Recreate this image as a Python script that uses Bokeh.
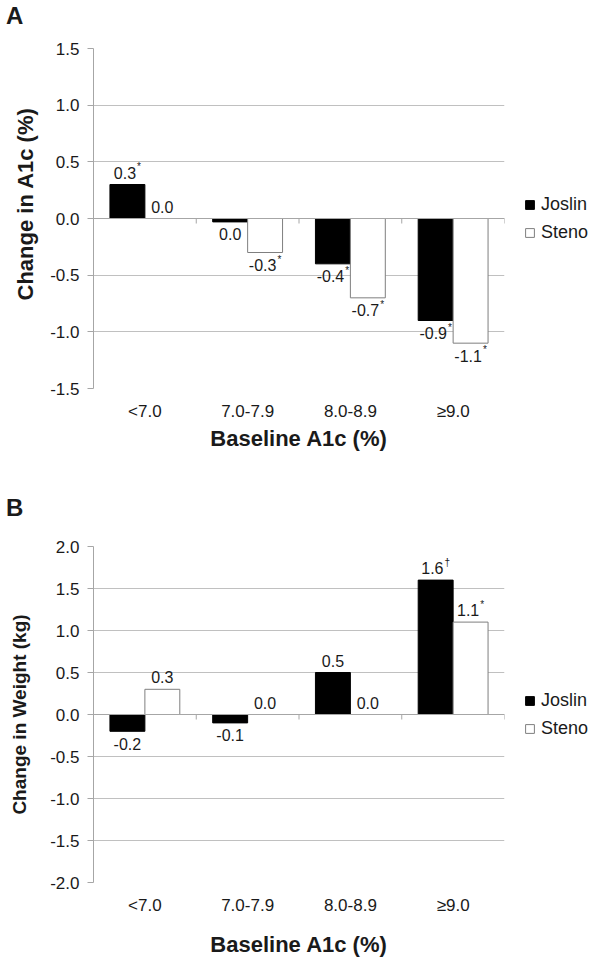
from math import pi
from bokeh.plotting import figure
from bokeh.models import (ColumnDataSource, FactorRange, FixedTicker, NumeralTickFormatter,
                          Legend, LegendItem, Span, Title, Div)
from bokeh.transform import dodge
from bokeh.layouts import column
from bokeh.embed import file_html
from bokeh.resources import INLINE
from bokeh.core.properties import value

# ---------------- data ----------------
categories = ["<7.0", "7.0-7.9", "8.0-8.9", "≥9.0"]
series = ["Joslin", "Steno"]

a1c_joslin = [0.3, -0.03, -0.4, -0.9]
a1c_joslin_labels = ["0.3", "0.0", "-0.4", "-0.9"]
a1c_joslin_marks = ["*", "", "*", "*"]
a1c_steno = [0.0, -0.3, -0.7, -1.1]
a1c_steno_labels = ["0.0", "-0.3", "-0.7", "-1.1"]
a1c_steno_marks = ["", "*", "*", "*"]
a1c_ticks = [-1.5, -1.0, -0.5, 0.0, 0.5, 1.0, 1.5]

wt_joslin = [-0.2, -0.1, 0.5, 1.6]
wt_joslin_labels = ["-0.2", "-0.1", "0.5", "1.6"]
wt_joslin_marks = ["", "", "", "†"]
wt_steno = [0.3, 0.0, 0.0, 1.1]
wt_steno_labels = ["0.3", "0.0", "0.0", "1.1"]
wt_steno_marks = ["", "", "", "*"]
wt_ticks = [-2.0, -1.5, -1.0, -0.5, 0.0, 0.5, 1.0, 1.5, 2.0]

x_title = "Baseline A1c (%)"

# ---------------- style ----------------
FONT = "Liberation Sans"
TXT = "#1a1a1a"
GRID = "#c0c0c0"
AXIS = "#a6a6a6"
LBL_SIZE = 16
SUP_SIZE = 10
CHAR_W = {".": 0.278, "-": 0.333, "*": 0.389, "†": 0.556}


def text_w(s, size):
    return sum(CHAR_W.get(c, 0.556) for c in s) * size


def label_source(vals, labels, marks):
    main_xoff, sup_xoff, main_yoff, sup_yoff = [], [], [], []
    for v, l, m in zip(vals, labels, marks):
        mw = text_w(l, LBL_SIZE)
        sw = text_w(m, SUP_SIZE) + (1 if m else 0)
        main_xoff.append(-sw / 2)
        sup_xoff.append(mw / 2 - sw / 2 + 1)
        yo = -12 if v >= 0 else 12.5
        main_yoff.append(yo)
        sup_yoff.append(yo - 6)
    return ColumnDataSource(dict(cat=categories, y=vals, main=labels, sup=marks,
                                 mx=main_xoff, sx=sup_xoff, my=main_yoff, sy=sup_yoff))


def letter_div(letter, height, pad_top):
    html = (f'<div style="font-family:\'{FONT}\';font-size:24px;font-weight:bold;'
            f'line-height:28px;padding:{pad_top}px 0 0 6px;margin:0;color:{TXT}">{letter}</div>')
    return Div(text=html, width=604, height=height, margin=0)


def panel(ylabel, ylabel_size, ylabel_mode, ylabel_offset, ylabel_standoff,
          jv, jl, jm, sv, sl, sm, ticks, frame_h, top, bottom, xlab_standoff):
    p = figure(x_range=FactorRange(factors=categories, range_padding=0, factor_padding=0),
               y_range=(ticks[0], ticks[-1]), frame_width=411, frame_height=frame_h,
               min_border_left=93, min_border_right=100, min_border_top=top,
               min_border_bottom=bottom, output_backend="svg", toolbar_location=None)

    p.outline_line_color = None
    p.xgrid.grid_line_color = None
    p.ygrid.grid_line_color = GRID
    p.ygrid.ticker = FixedTicker(ticks=ticks)

    src = ColumnDataSource(dict(cat=categories, joslin=jv, steno=sv))
    rj = p.vbar(x=dodge("cat", -0.17, range=p.x_range), top="joslin", bottom=0, width=0.34,
                fill_color="black", line_color="black", source=src)
    rs = p.vbar(x=dodge("cat", 0.17, range=p.x_range), top="steno", bottom=0, width=0.34,
                fill_color="white", line_color="#7f7f7f", source=src)

    p.add_layout(Span(location=0, dimension="width", line_color=AXIS, line_width=1))
    p.ray(x=dodge("cat", 0.5, range=p.x_range), y=0, length=5, length_units="screen",
          angle=-pi / 2, line_color=AXIS, source=src)

    for vals, labs, marks, off in ((jv, jl, jm, -0.17), (sv, sl, sm, 0.17)):
        ls = label_source(vals, labs, marks)
        p.text(x=dodge("cat", off, range=p.x_range), y="y", text="main", x_offset="mx",
               y_offset="my", text_align="center", text_baseline="alphabetic",
               text_font=value(FONT), text_font_size=f"{LBL_SIZE}px", text_color=TXT, source=ls)
        p.text(x=dodge("cat", off, range=p.x_range), y="y", text="sup", x_offset="sx",
               y_offset="sy", text_align="left", text_baseline="alphabetic",
               text_font=value(FONT), text_font_size=f"{SUP_SIZE}px", text_color=TXT, source=ls)

    ya = p.yaxis[0]
    ya.ticker = FixedTicker(ticks=ticks)
    ya.formatter = NumeralTickFormatter(format="0.0")
    ya.axis_line_color = AXIS
    ya.major_tick_line_color = AXIS
    ya.major_tick_out = 6
    ya.major_tick_in = 0
    ya.minor_tick_line_color = None
    ya.major_label_standoff = 8
    ya.major_label_text_font = FONT
    ya.major_label_text_font_size = "17px"
    ya.major_label_text_color = TXT

    if ylabel_mode == "title":
        ytitle = Title(text=ylabel, align="left", offset=ylabel_offset,
                       standoff=ylabel_standoff, text_font=FONT, text_font_size=ylabel_size,
                       text_font_style="bold", text_color=TXT)
        p.add_layout(ytitle, "left")
    else:
        ya.axis_label = ylabel
        ya.axis_label_text_font = FONT
        ya.axis_label_text_font_style = "bold"
        ya.axis_label_text_font_size = ylabel_size
        ya.axis_label_text_color = TXT
        ya.axis_label_standoff = ylabel_standoff

    xa = p.xaxis[0]
    xa.axis_line_color = None
    xa.major_tick_line_color = None
    xa.minor_tick_line_color = None
    xa.major_label_standoff = 7
    xa.major_label_text_font = FONT
    xa.major_label_text_font_size = "17px"
    xa.major_label_text_color = TXT
    xa.axis_label = x_title
    xa.axis_label_text_font = FONT
    xa.axis_label_text_font_style = "bold"
    xa.axis_label_text_font_size = "22px"
    xa.axis_label_text_color = TXT
    xa.axis_label_standoff = xlab_standoff

    legend = Legend(items=[LegendItem(label=series[0], renderers=[rj]),
                           LegendItem(label=series[1], renderers=[rs])],
                    location=(20, frame_h / 2 - 25), orientation="vertical",
                    glyph_width=11, glyph_height=11, label_standoff=6,
                    label_height=21, spacing=7, padding=0, margin=0,
                    border_line_color=None, background_fill_alpha=0,
                    label_text_font=FONT, label_text_font_size="18px",
                    label_text_color=TXT)
    p.add_layout(legend, "right")
    return p


divA = letter_div("A", 32, 2)
pA = panel("Change in A1c (%)", "22px", "title", 88, 19,
           a1c_joslin, a1c_joslin_labels, a1c_joslin_marks,
           a1c_steno, a1c_steno_labels, a1c_steno_marks, a1c_ticks,
           frame_h=340, top=16, bottom=64, xlab_standoff=2)
divB = letter_div("B", 70, 41)
pB = panel("Change in Weight (kg)", "19px", "axis", 0, 17,
           wt_joslin, wt_joslin_labels, wt_joslin_marks,
           wt_steno, wt_steno_labels, wt_steno_marks, wt_ticks,
           frame_h=336, top=23, bottom=76, xlab_standoff=14)

layout = column(divA, pA, divB, pB, spacing=0)
open("out.html", "w").write(file_html(layout, INLINE))
